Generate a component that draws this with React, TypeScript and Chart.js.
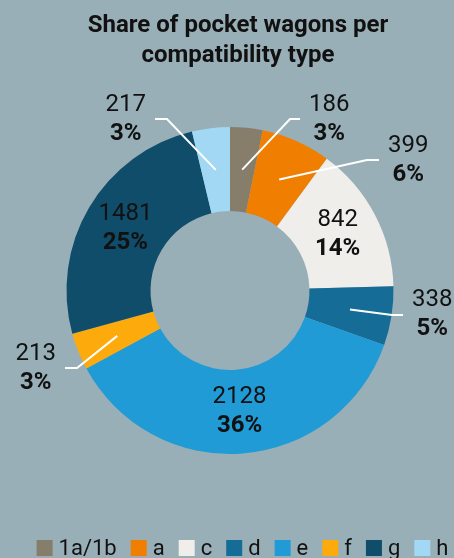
import { useEffect, useRef } from "react";
import { Chart, registerables } from "chart.js";

Chart.register(...registerables);

// ---- data ----
const categories = ["1a/1b", "a", "c", "d", "e", "f", "g", "h"];
const wagonCounts = [186, 399, 842, 338, 2128, 213, 1481, 217];
const shareLabels = ["3%", "6%", "14%", "5%", "36%", "3%", "25%", "3%"];
const titleLines = ["Share of pocket wagons per", "compatibility type"];

// ---- styles ----
const sliceColors = ["#867d6b", "#f07e00", "#efeeea", "#156c96", "#209bd6", "#fdaa0c", "#104d6b", "#a2d8f3"];
const BG = "#99afb7";
const TEXT = "#111111";
const FONT = "Roboto, 'Noto Sans', sans-serif";

// leader-line layout for outside labels (angle in degrees clockwise from top, radius as factor of outer radius)
const labelLayout: Array<{ inside: boolean; angle?: number; r?: number; side?: number; arm?: number }> = [
  { inside: false, angle: 19.3, r: 1.111, side: 1, arm: 10 },
  { inside: false, angle: 46.4, r: 1.157, side: 1, arm: 12 },
  { inside: true },
  { inside: false, angle: 98.6, r: 1.002, side: 1, arm: 11 },
  { inside: true },
  { inside: false, angle: 243.1, r: 1.049, side: -1, arm: 12 },
  { inside: true },
  { inside: false, angle: 339.8, r: 1.117, side: -1, arm: 12 },
];

const W = 454;
const H = 558;

const bgPlugin = {
  id: "bg",
  beforeDraw(chart: any) {
    const ctx = chart.ctx;
    ctx.save();
    ctx.fillStyle = BG;
    ctx.fillRect(0, 0, chart.width, chart.height);
    ctx.restore();
  },
};

const decorPlugin = {
  id: "decor",
  afterDatasetsDraw(chart: any) {
    const ctx: CanvasRenderingContext2D = chart.ctx;
    const meta = chart.getDatasetMeta(0);
    const valueFont = `400 24px ${FONT}`;
    const pctFont = `700 24px ${FONT}`;
    const half = 14.5;
    ctx.save();
    meta.data.forEach((arc: any, i: number) => {
      const p = arc.getProps(["x", "y", "startAngle", "endAngle", "innerRadius", "outerRadius"], true);
      const mid = (p.startAngle + p.endAngle) / 2;
      const rm = (p.innerRadius + p.outerRadius) / 2;
      const px = p.x + Math.cos(mid) * rm;
      const py = p.y + Math.sin(mid) * rm;
      const lay = labelLayout[i];
      const v = String(wagonCounts[i]);
      const s = shareLabels[i];
      let cx = px;
      let cy = py;
      if (!lay.inside) {
        const a = ((lay.angle! - 90) * Math.PI) / 180;
        const ex = p.x + Math.cos(a) * p.outerRadius * lay.r!;
        const ey = p.y + Math.sin(a) * p.outerRadius * lay.r!;
        const lx = ex + lay.side! * lay.arm!;
        ctx.strokeStyle = "#ffffff";
        ctx.lineWidth = 2;
        ctx.beginPath();
        ctx.moveTo(px, py);
        ctx.lineTo(ex, ey);
        ctx.lineTo(lx, ey);
        ctx.stroke();
        ctx.font = valueFont;
        const w1 = ctx.measureText(v).width;
        ctx.font = pctFont;
        const w2 = ctx.measureText(s).width;
        const mw = Math.max(w1, w2);
        cx = lx + lay.side! * (9 + mw / 2);
        cy = ey;
      }
      ctx.fillStyle = TEXT;
      ctx.textAlign = "center";
      ctx.textBaseline = "middle";
      ctx.font = valueFont;
      ctx.fillText(v, cx, cy - half);
      ctx.font = pctFont;
      ctx.fillText(s, cx, cy + half);
    });

    // title
    ctx.fillStyle = TEXT;
    ctx.font = `700 24px ${FONT}`;
    ctx.textAlign = "center";
    ctx.textBaseline = "middle";
    titleLines.forEach((t, k) => ctx.fillText(t, 238, 26 + k * 30));

    // legend
    const box = 16;
    const gapText = 6;
    const gapItem = 14;
    ctx.font = `400 22px ${FONT}`;
    const widths = categories.map((c) => ctx.measureText(c).width);
    const total = widths.reduce((acc, w) => acc + box + gapText + w, 0) + gapItem * (categories.length - 1);
    let x = 242.5 - total / 2;
    const ly = 548;
    ctx.textAlign = "left";
    categories.forEach((c, i) => {
      ctx.fillStyle = sliceColors[i];
      ctx.fillRect(x, ly - box / 2, box, box);
      x += box + gapText;
      ctx.fillStyle = TEXT;
      ctx.fillText(c, x, ly + 1);
      x += widths[i] + gapItem;
    });
    ctx.restore();
  },
};

export default function App() {
  const ref = useRef<HTMLCanvasElement | null>(null);
  useEffect(() => {
    document.body.style.margin = "0";
    document.body.style.background = BG;
    const canvas = ref.current!;
    const chart = new Chart(canvas, {
      type: "doughnut",
      data: {
        labels: categories,
        datasets: [
          {
            data: wagonCounts,
            backgroundColor: sliceColors,
            borderWidth: 0,
            hoverBorderWidth: 0,
            hoverOffset: 0,
          },
        ],
      },
      options: {
        responsive: false,
        animation: false,
        devicePixelRatio: 1,
        cutout: "48.6%",
        layout: { padding: { left: 66.5, right: 60.5, top: 127, bottom: 104 } },
        plugins: {
          legend: { display: false },
          title: { display: false },
          tooltip: { enabled: false },
        },
        events: [],
      },
      plugins: [bgPlugin, decorPlugin],
    });
    return () => chart.destroy();
  }, []);
  return (
    <div style={{ width: W, height: H, background: BG }}>
      <canvas ref={ref} width={W} height={H} style={{ display: "block", width: W, height: H }} />
    </div>
  );
}
